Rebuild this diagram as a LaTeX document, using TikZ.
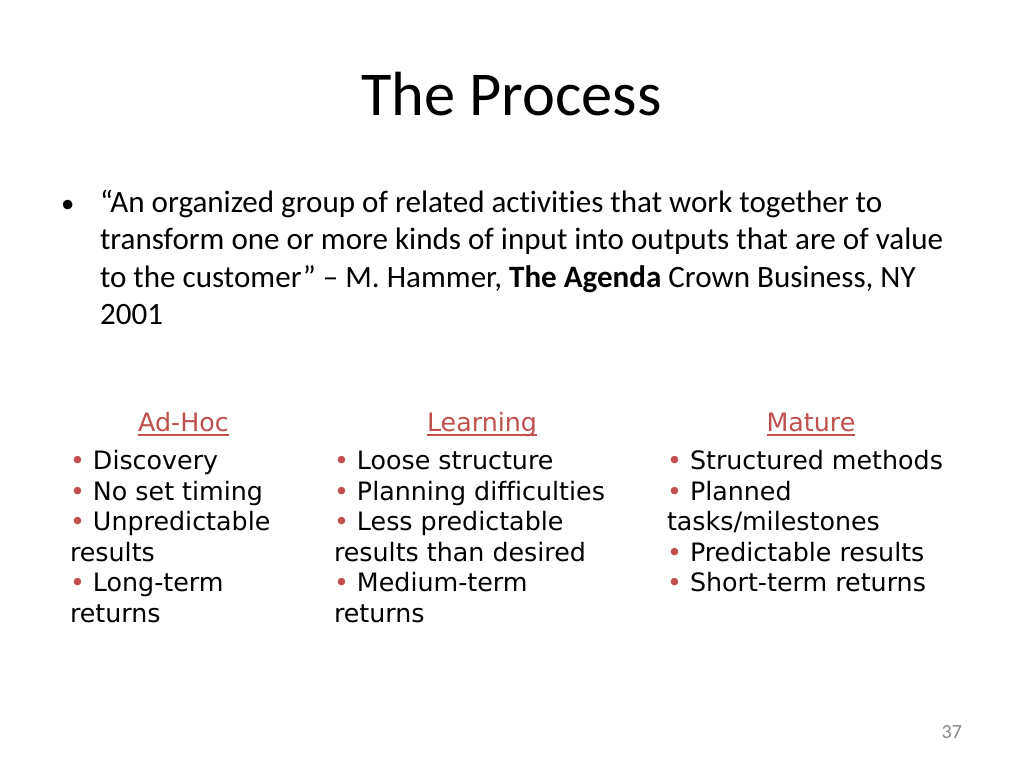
\documentclass[tikz,border=0pt]{standalone}
\usepackage{fontspec}
\setmainfont[RawFeature=-liga]{Carlito}
\newfontfamily\carfont[RawFeature=-liga]{Carlito}
\newfontfamily\dvfont[RawFeature=-liga]{DejaVu Sans}
\definecolor{acc}{RGB}{192,80,77}
\definecolor{pgnum}{RGB}{137,137,137}
\begin{document}
\begin{tikzpicture}[x=0.75pt,y=-0.75pt,
  every node/.style={inner sep=0pt,outer sep=0pt},
  ttl/.style={anchor=base,font=\carfont\fontsize{46.8}{56}\selectfont},
  body/.style={anchor=base west,font=\carfont\fontsize{23.3}{28}\selectfont},
  hdr/.style={anchor=base,text=acc,font=\dvfont\fontsize{19}{23}\selectfont},
  itm/.style={anchor=base west,font=\dvfont\fontsize{19}{23}\selectfont},
  uline/.style={draw=acc,line width=1.1pt},
  pg/.style={anchor=base east,text=pgnum,font=\carfont\fontsize{15}{18}\selectfont}]
\useasboundingbox (0,0) rectangle (1024,768);
\fill[white] (0,0) rectangle (1024,768);
% title
\node[ttl] (title) at (511.5,115) {The Process};
% quote
\node[body] (blt) at (61,212) {\fontsize{20}{24}\selectfont •};
\node[body] (q1) at (100,212) {“An organized group of related activities that work together to};
\node[body] (q2) at (100,249.5) {transform one or more kinds of input into outputs that are of value};
\node[body] (q3) at (100,287) {to the customer” – M. Hammer, \textbf{The Agenda} Crown Business, NY};
\node[body] (q4) at (100,324.5) {2001};
% headers
\node[hdr] (h1) at (183.5,431) {Ad-Hoc};
\node[hdr] (h2) at (482,431) {Learning};
\node[hdr] (h3) at (811,431) {Mature};
\draw[uline] ([yshift=-3pt]h1.base west) -- ([yshift=-3pt]h1.base east);
\draw[uline] ([yshift=-3pt]h2.base west) -- ([yshift=-3pt]h2.base east);
\draw[uline] ([yshift=-3pt]h3.base west) -- ([yshift=-3pt]h3.base east);
% column 1
\node[itm] (a1) at (70,469.5) {\textcolor{acc}{•} Discovery};
\node[itm] (a2) at (70,500.1) {\textcolor{acc}{•} No set timing};
\node[itm] (a3) at (70,530.7) {\textcolor{acc}{•} Unpredictable};
\node[itm] (a4) at (70,561.3) {results};
\node[itm] (a5) at (70,591.9) {\textcolor{acc}{•} Long-term};
\node[itm] (a6) at (70,622.5) {returns};
% column 2
\node[itm] (b1) at (334,469.5) {\textcolor{acc}{•} Loose structure};
\node[itm] (b2) at (334,500.1) {\textcolor{acc}{•} Planning difficulties};
\node[itm] (b3) at (334,530.7) {\textcolor{acc}{•} Less predictable};
\node[itm] (b4) at (334,561.3) {results than desired};
\node[itm] (b5) at (334,591.9) {\textcolor{acc}{•} Medium-term};
\node[itm] (b6) at (334,622.5) {returns};
% column 3
\node[itm] (c1) at (667,469.5) {\textcolor{acc}{•} Structured methods};
\node[itm] (c2) at (667,500.1) {\textcolor{acc}{•} Planned};
\node[itm] (c3) at (667,530.7) {tasks/milestones};
\node[itm] (c4) at (667,561.3) {\textcolor{acc}{•} Predictable results};
\node[itm] (c5) at (667,591.9) {\textcolor{acc}{•} Short-term returns};
% page number
\node[pg] (pn) at (962,738) {37};
\end{tikzpicture}
\end{document}
